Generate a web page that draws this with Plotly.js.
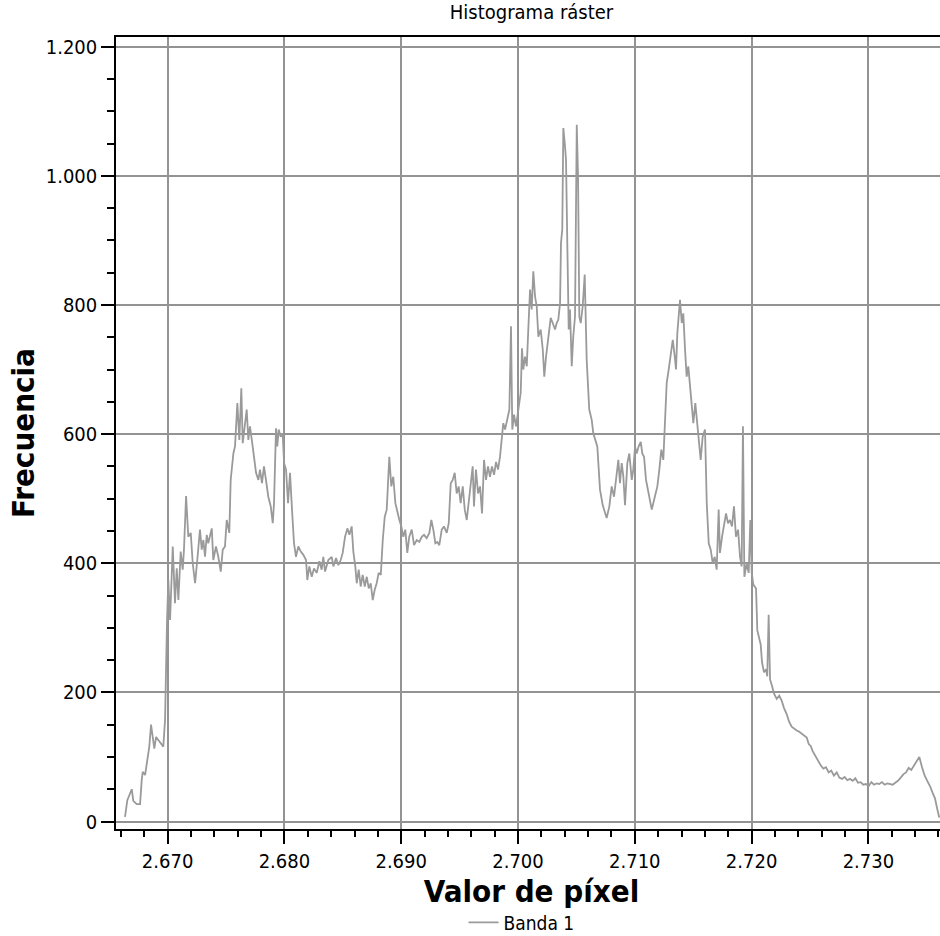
<!DOCTYPE html>
<html>
<head>
<meta charset="utf-8">
<script src="https://cdn.plot.ly/plotly-3.0.1.min.js"></script>
<style>
  html, body { margin: 0; padding: 0; background: #fff; overflow: hidden; }
  #chart { width: 948px; height: 936px; }
</style>
</head>
<body>
<div id="chart"></div>
<script>
// Pixel values (bin centres)
const binValues = [
2.66635,2.66655,2.66693,2.66706,2.66735,2.66764,2.66778,2.66787,2.66807,2.66821,
2.66843,2.66858,2.66872,2.66886,2.66901,2.66920,2.66941,2.66963,2.66978,2.66986,
2.66995,
2.67006,2.67021,2.67044,2.67063,2.67078,2.67092,2.67112,2.67129,2.67140,2.67158,
2.67177,2.67198,2.67215,2.67235,2.67254,2.67277,2.67292,2.67306,2.67320,2.67335,
2.67348,2.67378,2.67391,2.67414,2.67434,2.67455,2.67472,2.67491,2.67506,2.67528,
2.67540,2.67563,2.67577,2.67597,2.67614,2.67631,2.67643,2.67663,2.67677,2.67691,
2.67705,2.67723,2.67740,2.67757,2.67777,2.67791,2.67808,2.67825,2.67842,2.67862,
2.67883,2.67900,2.67911,2.67928,2.67939,2.67951,2.67968,2.67985,2.67997,2.68014,
2.68031,2.68048,2.68065,2.68082,2.68099,2.68119,2.68140,2.68162,2.68185,2.68196,
2.68213,2.68234,2.68253,2.68277,2.68299,
2.68319,2.68333,2.68348,2.68376,2.68405,2.68419,2.68442,2.68462,2.68482,2.68499,
2.68519,2.68539,2.68556,2.68576,2.68590,2.68607,2.68619,2.68636,2.68653,2.68670,
2.68688,2.68705,2.68722,2.68739,2.68756,2.68773,2.68790,2.68807,2.68825,2.68842,
2.68859,2.68876,2.68898,2.68915,2.68932,2.68950,2.68967,2.68984,2.69001,2.69018,
2.69035,2.69052,2.69069,2.69090,2.69110,2.69133,2.69155,2.69176,2.69195,2.69218,
2.69241,2.69258,2.69275,2.69292,2.69309,2.69326,2.69347,2.69366,2.69390,2.69407,
2.69424,2.69441,2.69458,2.69475,2.69492,2.69509,2.69527,2.69544,2.69561,2.69578,
2.69595,2.69612,2.69623,2.69640,2.69658,2.69675,2.69692,2.69709,2.69726,2.69743,
2.69760,2.69777,2.69795,2.69812,2.69829,2.69846,2.69860,2.69874,
2.69889,2.69908,2.69926,2.69940,2.69951,2.69966,2.69983,2.70003,2.70023,2.70034,
2.70045,2.70060,2.70075,2.70088,2.70103,2.70117,2.70131,2.70146,2.70160,2.70174,
2.70194,2.70212,2.70225,2.70240,2.70259,2.70280,2.70297,2.70317,2.70331,2.70345,
2.70360,2.70368,2.70379,2.70388,2.70400,2.70411,2.70422,2.70434,2.70445,2.70460,
2.70473,2.70488,2.70503,2.70514,2.70525,2.70537,2.70554,2.70571,2.70588,2.70610,
2.70631,2.70645,
2.70679,2.70702,2.70725,2.70759,2.70782,2.70802,2.70822,2.70839,2.70859,2.70873,
2.70888,2.70902,2.70916,2.70936,2.70953,2.70974,2.70987,2.71002,2.71016,2.71033,
2.71051,2.71064,2.71079,2.71096,2.71113,2.71130,2.71145,2.71158,2.71176,2.71193,
2.71210,2.71227,2.71244,2.71259,2.71273,2.71290,2.71307,2.71325,2.71342,2.71353,
2.71364,2.71376,2.71387,2.71402,2.71415,2.71430,2.71444,2.71458,2.71473,2.71487,
2.71501,2.71518,2.71535,2.71552,2.71564,2.71581,2.71601,2.71616,2.71633,2.71650,
2.71667,2.71684,2.71701,2.71718,2.71729,2.71747,2.71764,2.71781,2.71798,2.71815,
2.71832,2.71849,2.71866,2.71884,2.71901,2.71915,2.71926,2.71938,2.71958,2.71975,
2.71989,2.72001,
2.72015,2.72038,2.72049,2.72066,2.72078,2.72089,2.72106,2.72123,2.72134,2.72146,
2.72158,2.72175,2.72192,2.72215,2.72237,2.72258,2.72277,2.72301,2.72320,2.72343,
2.72363,2.72386,2.72408,2.72429,2.72449,2.72472,2.72489,2.72506,2.72523,2.72540,
2.72557,2.72575,2.72592,2.72614,2.72637,2.72660,2.72682,2.72705,2.72729,2.72751,
2.72774,2.72797,2.72819,2.72842,2.72866,2.72888,2.72911,2.72934,2.72956,2.72979,
2.73003,2.73025,2.73048,2.73071,2.73093,2.73116,2.73140,2.73162,2.73185,2.73208,
2.73230,2.73253,2.73277,2.73299,2.73322,2.73345,2.73367,2.73390,2.73414,2.73436,
2.73459,2.73482,2.73504,2.73527,2.73551,2.73570,2.73590,2.73607
];

// Frequencies
const frequencies = [
7,33,50,32,27,27,64,77,72,88,
116,150,129,113,131,126,121,116,157,245,
312,
374,312,426,338,392,343,418,390,421,504,
441,447,400,369,405,452,421,436,410,444,
431,454,405,426,410,387,421,426,467,447,
529,570,581,648,591,671,586,622,638,591,
612,588,565,540,529,545,524,550,529,503,
488,462,493,609,581,607,596,601,555,545,
493,540,483,431,410,426,418,413,405,374,
395,379,392,385,403,
390,410,387,405,410,395,408,397,405,416,
441,454,444,457,418,395,369,390,364,382,
364,379,361,369,343,359,369,385,382,436,
472,483,565,519,534,493,477,467,457,441,
452,416,441,452,428,436,433,441,444,439,
447,467,452,431,433,428,452,457,447,462,
524,529,540,508,519,493,519,483,467,498,
524,550,488,545,508,519,477,560,529,550,
534,550,537,557,545,565,591,617,
607,622,638,767,607,630,612,638,664,733,
700,720,705,762,824,793,852,813,798,751,
762,731,689,720,746,780,772,762,772,777,
803,896,917,1074,1051,1025,896,762,793,705,
751,782,1079,999,782,772,798,847,715,638,
622,601,
581,514,490,470,488,519,503,529,560,524,
555,534,490,555,570,529,545,581,570,581,
588,570,565,529,514,498,483,493,508,519,
545,576,560,627,679,700,720,746,720,700,
756,793,808,772,787,731,689,705,674,658,
617,648,617,586,560,596,607,493,431,421,
400,410,390,483,416,441,462,477,462,467,
457,488,441,452,410,395,612,379,400,385,
467,385,
367,361,296,280,274,247,231,236,225,320,
220,210,198,190,195,187,176,166,155,147,
144,141,139,136,133,130,120,117,109,103,
98,92,87,82,84,76,79,71,76,68,
66,69,64,66,63,67,60,61,57,58,
55,61,57,59,58,61,57,59,58,57,
60,63,68,73,76,83,80,87,94,100,
84,71,63,55,44,36,19,6
];

const xTickValues = [2.67, 2.68, 2.69, 2.70, 2.71, 2.72, 2.73];
const xTickLabels = ['2.670', '2.680', '2.690', '2.700', '2.710', '2.720', '2.730'];
const yTickValues = [0, 200, 400, 600, 800, 1000, 1200];
const yTickLabels = ['0', '200', '400', '600', '800', '1.000', '1.200'];

const chartTitle = 'Histograma ráster';
const xTitle = 'Valor de píxel';
const yTitle = 'Frecuencia';
const seriesName = 'Banda 1';

const FONT = "'DejaVu Sans Condensed', 'DejaVu Sans', sans-serif";
const GRID = '#939393';

const trace = {
  type: 'scatter',
  mode: 'lines',
  x: binValues,
  y: frequencies,
  name: seriesName,
  line: { color: '#9a9a9a', width: 1.8 },
  hoverinfo: 'x+y'
};

const layout = {
  width: 948,
  height: 936,
  margin: { l: 116, r: 1, t: 37, b: 107, pad: 0, autoexpand: false },
  paper_bgcolor: '#ffffff',
  plot_bgcolor: '#ffffff',
  font: { family: FONT, size: 20, color: '#000000' },
  title: {
    text: chartTitle,
    font: { family: FONT, size: 20, color: '#000000' },
    x: 0.5, xref: 'paper', xanchor: 'center',
    y: 0.995, yref: 'container', yanchor: 'top'
  },
  showlegend: true,
  legend: {
    orientation: 'h',
    x: 0.488, xanchor: 'center',
    y: -0.118, yanchor: 'middle',
    font: { family: FONT, size: 19, color: '#000000' },
    bgcolor: 'rgba(0,0,0,0)'
  },
  xaxis: {
    range: [2.66558, 2.73673],
    tickmode: 'array',
    tickvals: xTickValues,
    ticktext: xTickLabels,
    showgrid: true, gridcolor: GRID, gridwidth: 1.5,
    zeroline: false,
    showline: true, linecolor: '#000000', linewidth: 1.5, mirror: true,
    ticks: 'outside', ticklen: 13, tickwidth: 1.5, tickcolor: '#000000',
    minor: { tick0: 2.67, dtick: 0.002, ticks: 'outside', ticklen: 6, tickwidth: 1.5, tickcolor: '#000000', showgrid: false },
    tickfont: { family: FONT, size: 20, color: '#000000' },
    automargin: false,
    title: { text: xTitle, font: { family: FONT, size: 31, weight: 'bold', color: '#000000' }, standoff: 1 }
  },
  yaxis: {
    range: [-11.6, 1215],
    tickmode: 'array',
    tickvals: yTickValues,
    ticktext: yTickLabels,
    showgrid: true, gridcolor: GRID, gridwidth: 1.5,
    zeroline: false,
    showline: true, linecolor: '#000000', linewidth: 1.5, mirror: false,
    ticks: 'outside', ticklen: 13, tickwidth: 1.5, tickcolor: '#000000',
    minor: { tick0: 0, dtick: 50, ticks: 'outside', ticklen: 7, tickwidth: 1.5, tickcolor: '#000000', showgrid: false },
    tickfont: { family: FONT, size: 20, color: '#000000' },
    automargin: false,
    title: { text: yTitle, font: { family: FONT, size: 31, weight: 'bold', color: '#000000' }, standoff: 2 }
  }
};

Plotly.newPlot('chart', [trace], layout, { displayModeBar: false, staticPlot: false, responsive: false });
</script>
</body>
</html>
